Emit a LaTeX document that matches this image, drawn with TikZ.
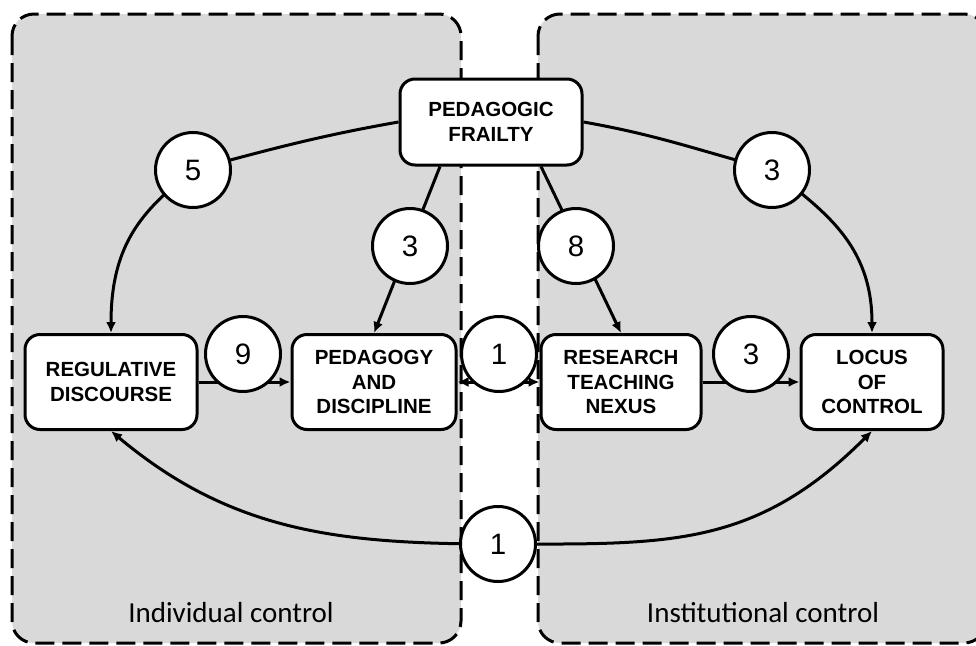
\documentclass[tikz,border=0pt]{standalone}
\usepackage{fontspec}
\setmainfont{Liberation Sans}
\newfontfamily\captionfont{Carlito}
\usetikzlibrary{arrows.meta}
\pgfdeclarelayer{panels}
\pgfdeclarelayer{links}
\pgfsetlayers{panels,links,main}
\definecolor{panelgray}{HTML}{D9D9D9}
\begin{document}
\begin{tikzpicture}[x=1pt,y=-1pt,
  concept/.style={draw, line width=3pt, rounded corners=15pt, fill=white,
    align=center, inner sep=0pt, minimum height=95pt,
    font=\bfseries\fontsize{20.5}{24.5}\selectfont},
  weight/.style={draw, circle, line width=3pt, fill=white,
    minimum size=75pt, inner sep=0pt, font=\fontsize{29.5}{31}\selectfont},
  tip/.tip={Latex[length=11pt,width=10pt]},
  link/.style={line width=3pt, -tip},
  panel/.style={fill=panelgray, draw, line width=3pt,
    dash pattern=on 19pt off 8pt, rounded corners=22pt},
  zone/.style={font=\captionfont\fontsize{29}{32}\selectfont}
]
\useasboundingbox (0,0) rectangle (976,645);

% two shaded control zones
\begin{pgfonlayer}{panels}
  \begin{scope}
    \clip (0,0) rectangle (976,645);
    \draw[panel] (12,14) rectangle (461,643);
    \draw[panel] (538,14) rectangle (986,643);
  \end{scope}
\end{pgfonlayer}

% concepts
\node[concept, minimum width=182pt, minimum height=86pt] (pf) at (491,122) {PEDAGOGIC\\FRAILTY};
\node[concept, minimum width=172pt] (rd)  at (111,382) {REGULATIVE\\DISCOURSE};
\node[concept, minimum width=164pt] (pd)  at (374,382) {PEDAGOGY\\AND\\DISCIPLINE};
\node[concept, minimum width=160pt] (rtn) at (621,382) {RESEARCH\\TEACHING\\NEXUS};
\node[concept, minimum width=142pt] (loc) at (872,382) {LOCUS\\OF\\CONTROL};

% link weights
\node[weight] (c5)  at (193,170) {5};
\node[weight] (c3a) at (410,246) {3};
\node[weight] (c8)  at (576,246) {8};
\node[weight] (c3b) at (772,170) {3};
\node[weight] (c9)  at (243,354) {9};
\node[weight] (c1a) at (499,354) {1};
\node[weight] (c3c) at (751,354) {3};
\node[weight] (c1b) at (498,544) {1};

% zone captions
\node[zone] (ic)  at (231,613) {Individual control};
\node[zone] (inc) at (763,613) {Institutional control};

% connectors
\begin{pgfonlayer}{links}
  \draw[link] (pf.west) to[out=190, in=15] (c5.center)
    .. controls +(-50,40) and +(0,-90) .. (rd.north);
  \draw[link] (pf.east) to[out=-10, in=165] (c3b.center)
    .. controls +(50,40) and +(0,-90) .. (loc.north);
  \draw[link] ([xshift=-51pt]pf.south) -- (pd.north);
  \draw[link] ([xshift=50pt]pf.south) -- (rtn.north);
  \draw[link] (rd.east) -- (pd.west);
  \draw[link, tip-tip] (pd.east) -- (rtn.west);
  \draw[link] (rtn.east) -- (loc.west);
  \draw[link] (c1b.center) to[out=180, in=-40] (rd.south);
  \draw[link] (c1b.center) to[out=0, in=-135, looseness=1.1] (loc.south);
\end{pgfonlayer}
\end{tikzpicture}
\end{document}
